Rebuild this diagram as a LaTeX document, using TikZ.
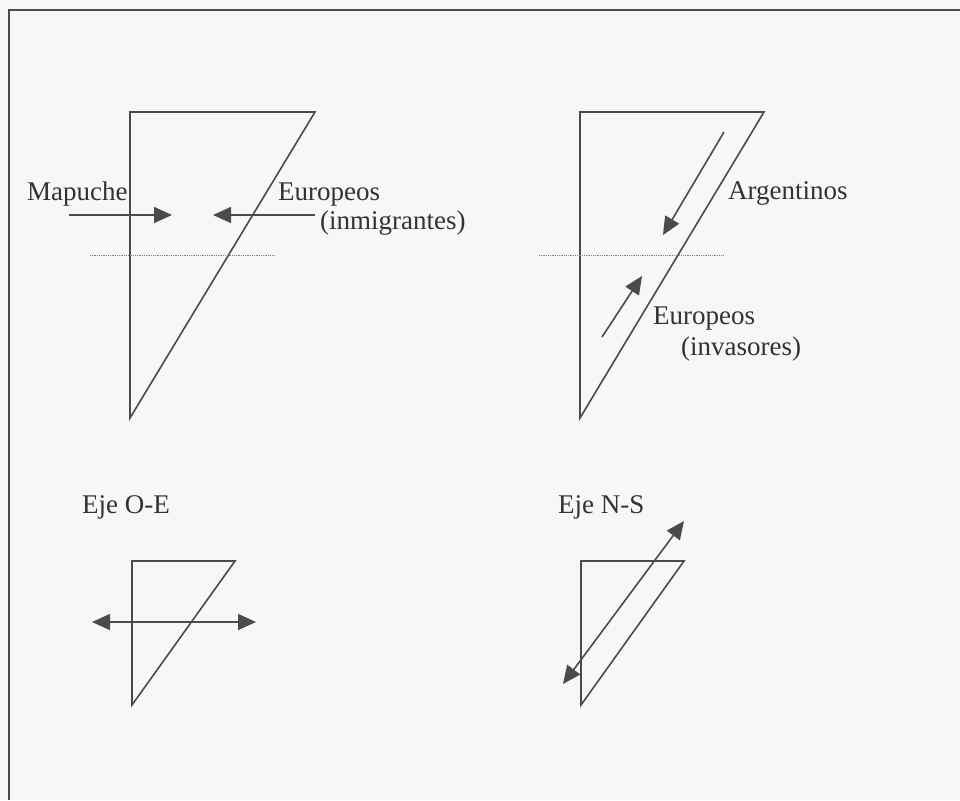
\documentclass[tikz,border=0pt]{standalone}
\usepackage{fontspec}
\setmainfont{Liberation Serif}
\usetikzlibrary{arrows.meta}
\definecolor{ink}{RGB}{75,75,75}
\definecolor{paper}{RGB}{247,247,247}
\definecolor{txt}{RGB}{50,50,50}
\begin{document}
\begin{tikzpicture}[x=1pt,y=-1pt,
  tri/.style={draw=ink,line width=1.6pt,line join=miter},
  arr/.style={draw=ink,line width=1.6pt,-{Triangle[length=18pt,width=16pt]}},
  darr/.style={draw=ink,line width=1.6pt,{Triangle[length=18pt,width=16pt]}-{Triangle[length=18pt,width=16pt]}},
  lbl/.style={text=txt,font=\fontsize{27}{32}\selectfont,inner sep=0pt,anchor=base west},
  guide/.style={draw=ink!70,line width=0.8pt,densely dotted}]
\useasboundingbox (0,0) rectangle (960,800);
\fill[paper] (0,0) rectangle (960,800);
% frame
\draw[draw=ink,line width=2pt] (9,800) -- (9,10) -- (960,10);

% ---------- top left ----------
\coordinate (a1) at (130,418);
\coordinate (a2) at (130,112);
\coordinate (a3) at (315,112);
\draw[tri] (a1) -- (a2) -- (a3) -- cycle;
\coordinate (m0) at (69,215);
\coordinate (m1) at (172,215);
\coordinate (e0) at (315,215);
\coordinate (e1) at (213,215);
\draw[arr] (m0) -- (m1);
\draw[arr] (e0) -- (e1);
\coordinate (g0) at (90,255);
\coordinate (g1) at (275,255);
\draw[guide] (g0) -- (g1);
\node[lbl] (mapuche) at (27,200) {Mapuche};
\node[lbl] (eur1) at (278,200) {Europeos};
\node[lbl] (inm) at (320,229) {(inmigrantes)};

% ---------- top right ----------
\coordinate (b1) at (580,418);
\coordinate (b2) at (580,112);
\coordinate (b3) at (764,112);
\draw[tri] (b1) -- (b2) -- (b3) -- cycle;
\coordinate (r0) at (724,132);
\coordinate (r1) at (663,235);
\coordinate (s0) at (602,337);
\coordinate (s1) at (642,276);
\draw[arr] (r0) -- (r1);
\draw[arr] (s0) -- (s1);
\coordinate (h0) at (539,255);
\coordinate (h1) at (723,255);
\draw[guide] (h0) -- (h1);
\node[lbl] (arg) at (728,199) {Argentinos};
\node[lbl] (eur2) at (653,324) {Europeos};
\node[lbl] (inv) at (681,355) {(invasores)};

% ---------- bottom left ----------
\coordinate (c1) at (132,705);
\coordinate (c2) at (132,561);
\coordinate (c3) at (235,561);
\draw[tri] (c1) -- (c2) -- (c3) -- cycle;
\coordinate (oe0) at (92,622);
\coordinate (oe1) at (256,622);
\draw[darr] (oe0) -- (oe1);
\node[lbl] (ejeoe) at (82,513) {Eje O-E};

% ---------- bottom right ----------
\coordinate (d1) at (581,705);
\coordinate (d2) at (581,561);
\coordinate (d3) at (684,561);
\draw[tri] (d1) -- (d2) -- (d3) -- cycle;
\coordinate (ns0) at (563,684);
\coordinate (ns1) at (684,521);
\draw[darr] (ns0) -- (ns1);
\node[lbl] (ejens) at (558,513) {Eje N-S};
\end{tikzpicture}
\end{document}
